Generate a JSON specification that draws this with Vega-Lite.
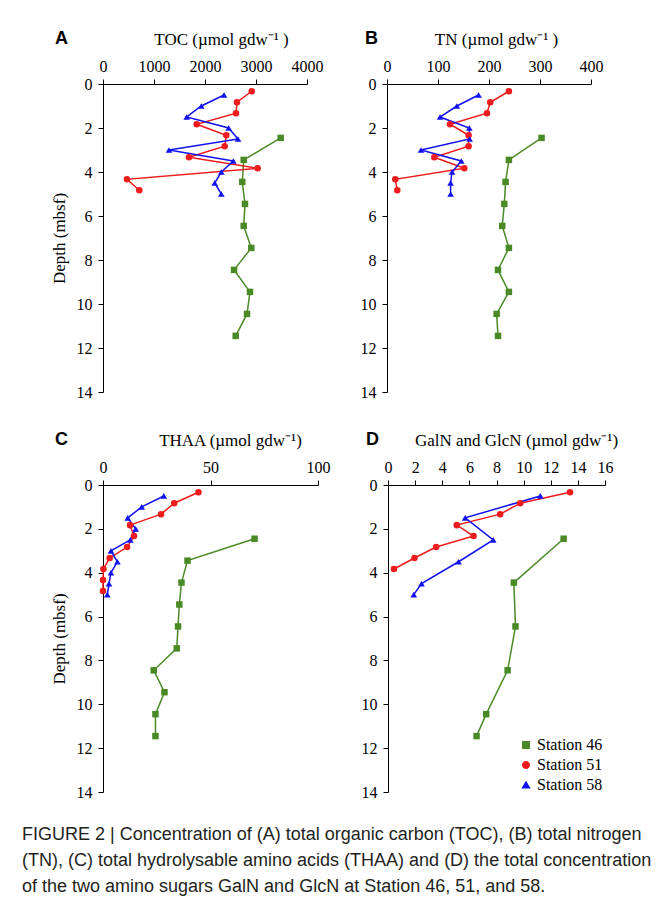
{
  "$schema": "https://vega.github.io/schema/vega-lite/v6.json",
  "autosize": {"type": "none"},
  "padding": {"left": 103, "top": 84, "right": 554, "bottom": 830},
  "background": "white",
  "datasets": {
    "A": [
      {"station": "Station 46", "depth": 2.45, "value": 3484},
      {"station": "Station 46", "depth": 3.45, "value": 2759},
      {"station": "Station 46", "depth": 4.45, "value": 2731},
      {"station": "Station 46", "depth": 5.45, "value": 2784},
      {"station": "Station 46", "depth": 6.45, "value": 2759},
      {"station": "Station 46", "depth": 7.45, "value": 2908},
      {"station": "Station 46", "depth": 8.45, "value": 2569},
      {"station": "Station 46", "depth": 9.45, "value": 2882},
      {"station": "Station 46", "depth": 10.45, "value": 2824},
      {"station": "Station 46", "depth": 11.45, "value": 2602},
      {"station": "Station 51", "depth": 0.33, "value": 2916},
      {"station": "Station 51", "depth": 0.83, "value": 2627},
      {"station": "Station 51", "depth": 1.33, "value": 2608},
      {"station": "Station 51", "depth": 1.83, "value": 1837},
      {"station": "Station 51", "depth": 2.33, "value": 2418},
      {"station": "Station 51", "depth": 2.83, "value": 2386},
      {"station": "Station 51", "depth": 3.33, "value": 1686},
      {"station": "Station 51", "depth": 3.83, "value": 3033},
      {"station": "Station 51", "depth": 4.33, "value": 470},
      {"station": "Station 51", "depth": 4.83, "value": 712},
      {"station": "Station 58", "depth": 0.5, "value": 2373},
      {"station": "Station 58", "depth": 1.0, "value": 1928},
      {"station": "Station 58", "depth": 1.5, "value": 1641},
      {"station": "Station 58", "depth": 2.0, "value": 2464},
      {"station": "Station 58", "depth": 2.5, "value": 2647},
      {"station": "Station 58", "depth": 3.0, "value": 1294},
      {"station": "Station 58", "depth": 3.5, "value": 2555},
      {"station": "Station 58", "depth": 4.0, "value": 2320},
      {"station": "Station 58", "depth": 4.5, "value": 2190},
      {"station": "Station 58", "depth": 5.0, "value": 2320}
    ],
    "B": [
      {"station": "Station 46", "depth": 2.45, "value": 303},
      {"station": "Station 46", "depth": 3.45, "value": 239},
      {"station": "Station 46", "depth": 4.45, "value": 232.5},
      {"station": "Station 46", "depth": 5.45, "value": 230},
      {"station": "Station 46", "depth": 6.45, "value": 226},
      {"station": "Station 46", "depth": 7.45, "value": 239},
      {"station": "Station 46", "depth": 8.45, "value": 217.6},
      {"station": "Station 46", "depth": 9.45, "value": 239},
      {"station": "Station 46", "depth": 10.45, "value": 215},
      {"station": "Station 46", "depth": 11.45, "value": 217.6},
      {"station": "Station 51", "depth": 0.33, "value": 239},
      {"station": "Station 51", "depth": 0.83, "value": 202.5},
      {"station": "Station 51", "depth": 1.33, "value": 196},
      {"station": "Station 51", "depth": 1.83, "value": 123.5},
      {"station": "Station 51", "depth": 2.33, "value": 160},
      {"station": "Station 51", "depth": 2.83, "value": 160},
      {"station": "Station 51", "depth": 3.33, "value": 92.7},
      {"station": "Station 51", "depth": 3.83, "value": 151.6},
      {"station": "Station 51", "depth": 4.33, "value": 16.3},
      {"station": "Station 51", "depth": 4.83, "value": 20.2},
      {"station": "Station 58", "depth": 0.5, "value": 179.6},
      {"station": "Station 58", "depth": 1.0, "value": 137},
      {"station": "Station 58", "depth": 1.5, "value": 104},
      {"station": "Station 58", "depth": 2.0, "value": 161.4},
      {"station": "Station 58", "depth": 2.5, "value": 162},
      {"station": "Station 58", "depth": 3.0, "value": 66.7},
      {"station": "Station 58", "depth": 3.5, "value": 145.7},
      {"station": "Station 58", "depth": 4.0, "value": 127.5},
      {"station": "Station 58", "depth": 4.5, "value": 124.7},
      {"station": "Station 58", "depth": 5.0, "value": 124.7}
    ],
    "C": [
      {"station": "Station 46", "depth": 2.45, "value": 70.5},
      {"station": "Station 46", "depth": 3.45, "value": 39.3},
      {"station": "Station 46", "depth": 4.45, "value": 36.5},
      {"station": "Station 46", "depth": 5.45, "value": 35.5},
      {"station": "Station 46", "depth": 6.45, "value": 34.9},
      {"station": "Station 46", "depth": 7.45, "value": 34.3},
      {"station": "Station 46", "depth": 8.45, "value": 23.6},
      {"station": "Station 46", "depth": 9.45, "value": 28.6},
      {"station": "Station 46", "depth": 10.45, "value": 24.4},
      {"station": "Station 46", "depth": 11.45, "value": 24.4},
      {"station": "Station 51", "depth": 0.33, "value": 44.4},
      {"station": "Station 51", "depth": 0.83, "value": 33.1},
      {"station": "Station 51", "depth": 1.33, "value": 27},
      {"station": "Station 51", "depth": 1.83, "value": 12.6},
      {"station": "Station 51", "depth": 2.33, "value": 14.4},
      {"station": "Station 51", "depth": 2.83, "value": 11.2},
      {"station": "Station 51", "depth": 3.33, "value": 3.1},
      {"station": "Station 51", "depth": 3.83, "value": 0.2},
      {"station": "Station 51", "depth": 4.33, "value": 0},
      {"station": "Station 51", "depth": 4.83, "value": 0},
      {"station": "Station 58", "depth": 0.5, "value": 28.3},
      {"station": "Station 58", "depth": 1.0, "value": 18},
      {"station": "Station 58", "depth": 1.5, "value": 11.5},
      {"station": "Station 58", "depth": 2.0, "value": 15.2},
      {"station": "Station 58", "depth": 2.5, "value": 12.7},
      {"station": "Station 58", "depth": 3.0, "value": 3.7},
      {"station": "Station 58", "depth": 3.5, "value": 6.7},
      {"station": "Station 58", "depth": 4.0, "value": 3.7},
      {"station": "Station 58", "depth": 4.5, "value": 2.8},
      {"station": "Station 58", "depth": 5.0, "value": 2.0}
    ],
    "D": [
      {"station": "Station 46", "depth": 2.45, "value": 12.95},
      {"station": "Station 46", "depth": 4.45, "value": 9.28},
      {"station": "Station 46", "depth": 6.45, "value": 9.4},
      {"station": "Station 46", "depth": 8.45, "value": 8.82},
      {"station": "Station 46", "depth": 10.45, "value": 7.24},
      {"station": "Station 46", "depth": 11.45, "value": 6.53},
      {"station": "Station 51", "depth": 0.33, "value": 13.42},
      {"station": "Station 51", "depth": 0.83, "value": 9.75},
      {"station": "Station 51", "depth": 1.33, "value": 8.27},
      {"station": "Station 51", "depth": 1.83, "value": 5.07},
      {"station": "Station 51", "depth": 2.33, "value": 6.31},
      {"station": "Station 51", "depth": 2.83, "value": 3.55},
      {"station": "Station 51", "depth": 3.33, "value": 1.95},
      {"station": "Station 51", "depth": 3.83, "value": 0.44},
      {"station": "Station 58", "depth": 0.5, "value": 11.23},
      {"station": "Station 58", "depth": 1.5, "value": 5.69},
      {"station": "Station 58", "depth": 2.5, "value": 7.76},
      {"station": "Station 58", "depth": 3.5, "value": 5.2},
      {"station": "Station 58", "depth": 4.5, "value": 2.47},
      {"station": "Station 58", "depth": 5.0, "value": 1.9}
    ]
  },
  "title": {
    "text": [
      "FIGURE 2 | Concentration of (A) total organic carbon (TOC), (B) total nitrogen",
      "(TN), (C) total hydrolysable amino acids (THAA) and (D) the total concentration",
      "of the two amino sugars GalN and GlcN at Station 46, 51, and 58."
    ],
    "orient": "bottom",
    "anchor": "start",
    "frame": "bounds",
    "font": "Liberation Sans",
    "fontSize": 18,
    "fontWeight": "normal",
    "lineHeight": 26,
    "color": "#231f20",
    "dx": -28,
    "offset": 26
  },
  "resolve": {"legend": {"color": "independent", "shape": "independent", "size": "independent"}},
  "vconcat": [
    {
      "bounds": "flush",
      "spacing": 80,
      "resolve": {"legend": {"color": "independent", "shape": "independent", "size": "independent"}},
      "hconcat": [
        {
          "width": 204,
          "height": 308,
          "data": {"name": "A"},
          "title": {"text": "A", "anchor": "start", "frame": "group", "font": "Liberation Sans", "fontSize": 18, "fontWeight": "bold", "color": "black", "dx": -48, "dy": 22},
          "encoding": {
            "x": {"field": "value", "type": "quantitative", "scale": {"domain": [0, 4000], "nice": false}, "axis": {"orient": "top", "values": [0, 1000, 2000, 3000, 4000], "format": "d", "title": "TOC (µmol gdw⁻¹ )", "titleX": 118}},
            "y": {"field": "depth", "type": "quantitative", "scale": {"domain": [0, 14], "reverse": true, "nice": false}, "axis": {"values": [0, 2, 4, 6, 8, 10, 12, 14], "title": "Depth (mbsf)"}}
          },
          "layer": [
            {"mark": {"type": "line", "strokeWidth": 1.5}, "encoding": {"color": {"field": "station", "type": "nominal", "scale": {"domain": ["Station 46", "Station 51", "Station 58"], "range": ["#4a8a26", "#ee1c1c", "#1010f0"]}, "legend": null}, "order": {"field": "depth", "type": "quantitative"}}},
            {"mark": {"type": "point", "filled": true, "opacity": 1}, "encoding": {
              "color": {"field": "station", "type": "nominal", "legend": null},
              "shape": {"field": "station", "type": "nominal", "scale": {"domain": ["Station 46", "Station 51", "Station 58"], "range": ["square", "circle", "triangle-up"]}, "legend": null},
              "size": {"field": "station", "type": "nominal", "scale": {"domain": ["Station 46", "Station 51", "Station 58"], "range": [42, 44, 85]}, "legend": null}}}
          ]
        },
        {
          "width": 204,
          "height": 308,
          "data": {"name": "B"},
          "title": {"text": "B", "anchor": "start", "frame": "group", "font": "Liberation Sans", "fontSize": 18, "fontWeight": "bold", "color": "black", "dx": -22, "dy": 22},
          "encoding": {
            "x": {"field": "value", "type": "quantitative", "scale": {"domain": [0, 400], "nice": false}, "axis": {"orient": "top", "values": [0, 100, 200, 300, 400], "title": "TN (µmol gdw⁻¹ )", "titleX": 109}},
            "y": {"field": "depth", "type": "quantitative", "scale": {"domain": [0, 14], "reverse": true, "nice": false}, "axis": {"values": [0, 2, 4, 6, 8, 10, 12, 14], "title": null}}
          },
          "layer": [
            {"mark": {"type": "line", "strokeWidth": 1.5}, "encoding": {"color": {"field": "station", "type": "nominal", "legend": null}, "order": {"field": "depth", "type": "quantitative"}}},
            {"mark": {"type": "point", "filled": true, "opacity": 1}, "encoding": {
              "color": {"field": "station", "type": "nominal", "legend": null},
              "shape": {"field": "station", "type": "nominal", "legend": null},
              "size": {"field": "station", "type": "nominal", "legend": null}}}
          ]
        }
      ]
    },
    {
      "bounds": "flush",
      "spacing": 70,
      "resolve": {"legend": {"color": "independent", "shape": "independent", "size": "independent"}},
      "hconcat": [
        {
          "width": 215,
          "height": 307,
          "data": {"name": "C"},
          "title": {"text": "C", "anchor": "start", "frame": "group", "font": "Liberation Sans", "fontSize": 18, "fontWeight": "bold", "color": "black", "dx": -48, "dy": 22},
          "encoding": {
            "x": {"field": "value", "type": "quantitative", "scale": {"domain": [0, 100], "nice": false}, "axis": {"orient": "top", "values": [0, 50, 100], "title": "THAA (µmol gdw⁻¹)", "titleX": 127}},
            "y": {"field": "depth", "type": "quantitative", "scale": {"domain": [0, 14], "reverse": true, "nice": false}, "axis": {"values": [0, 2, 4, 6, 8, 10, 12, 14], "title": "Depth (mbsf)"}}
          },
          "layer": [
            {"mark": {"type": "line", "strokeWidth": 1.5}, "encoding": {"color": {"field": "station", "type": "nominal", "legend": null}, "order": {"field": "depth", "type": "quantitative"}}},
            {"mark": {"type": "point", "filled": true, "opacity": 1}, "encoding": {
              "color": {"field": "station", "type": "nominal", "legend": null},
              "shape": {"field": "station", "type": "nominal", "legend": null},
              "size": {"field": "station", "type": "nominal", "legend": null}}}
          ]
        },
        {
          "width": 217,
          "height": 307,
          "data": {"name": "D"},
          "title": {"text": "D", "anchor": "start", "frame": "group", "font": "Liberation Sans", "fontSize": 18, "fontWeight": "bold", "color": "black", "dx": -22, "dy": 22},
          "encoding": {
            "x": {"field": "value", "type": "quantitative", "scale": {"domain": [0, 16], "nice": false}, "axis": {"orient": "top", "values": [0, 2, 4, 6, 8, 10, 12, 14, 16], "title": "GalN and GlcN (µmol gdw⁻¹)", "titleX": 128}},
            "y": {"field": "depth", "type": "quantitative", "scale": {"domain": [0, 14], "reverse": true, "nice": false}, "axis": {"values": [0, 2, 4, 6, 8, 10, 12, 14], "title": null}}
          },
          "layer": [
            {"mark": {"type": "line", "strokeWidth": 1.5}, "encoding": {"color": {"field": "station", "type": "nominal"}, "order": {"field": "depth", "type": "quantitative"}}},
            {"mark": {"type": "point", "filled": true, "opacity": 1}, "encoding": {
              "size": {"field": "station", "type": "nominal", "legend": null},
              "color": {"field": "station", "type": "nominal", "legend": {"title": null, "orient": "none", "legendX": 130, "legendY": 252, "symbolSize": 1024, "labelFont": "Liberation Serif", "labelFontSize": 16, "labelColor": "black", "labelOffset": 3, "rowPadding": 4,
                "encode": {"symbols": {
                  "shape": {"value": {"expr": "datum.value === 'Station 46' ? 'M-1,0H1M-0.19,-0.19H0.19V0.19H-0.19Z' : datum.value === 'Station 51' ? 'M-1,0H1M0.19,0A0.19,0.19,0,1,1,-0.19,0A0.19,0.19,0,1,1,0.19,0Z' : 'M-1,0H1M0,-0.25L0.23,0.17H-0.23Z'"}},
                  "fill": {"value": {"expr": "datum.value === 'Station 46' ? '#4a8a26' : datum.value === 'Station 51' ? '#ee1c1c' : '#1010f0'"}},
                  "stroke": {"value": {"expr": "datum.value === 'Station 46' ? '#4a8a26' : datum.value === 'Station 51' ? '#ee1c1c' : '#1010f0'"}},
                  "size": {"value": 1024},
                  "strokeWidth": {"value": 1.5},
                  "opacity": {"value": 1}
                }}}},
              "shape": {"field": "station", "type": "nominal", "legend": {"title": null, "orient": "none", "legendX": 130, "legendY": 252, "symbolSize": 1024, "labelFont": "Liberation Serif", "labelFontSize": 16, "labelColor": "black", "labelOffset": 3, "rowPadding": 4,
                "encode": {"symbols": {
                  "shape": {"value": {"expr": "datum.value === 'Station 46' ? 'M-1,0H1M-0.19,-0.19H0.19V0.19H-0.19Z' : datum.value === 'Station 51' ? 'M-1,0H1M0.19,0A0.19,0.19,0,1,1,-0.19,0A0.19,0.19,0,1,1,0.19,0Z' : 'M-1,0H1M0,-0.25L0.23,0.17H-0.23Z'"}},
                  "fill": {"value": {"expr": "datum.value === 'Station 46' ? '#4a8a26' : datum.value === 'Station 51' ? '#ee1c1c' : '#1010f0'"}},
                  "stroke": {"value": {"expr": "datum.value === 'Station 46' ? '#4a8a26' : datum.value === 'Station 51' ? '#ee1c1c' : '#1010f0'"}},
                  "size": {"value": 1024},
                  "strokeWidth": {"value": 1.5},
                  "opacity": {"value": 1}
                }}}}
            }}
          ]
        }
      ]
    }
  ],
  "spacing": 401,
  "bounds": "flush",
  "config": {
    "view": {"stroke": null},
    "legend": {"labelFont": "Liberation Serif", "labelFontSize": 16, "labelColor": "black", "symbolSize": 1024, "labelOffset": 3, "rowPadding": 4},
    "axis": {
      "domainColor": "black",
      "tickColor": "black",
      "labelColor": "black",
      "titleColor": "black",
      "labelFont": "Liberation Serif",
      "titleFont": "Liberation Serif",
      "labelFontSize": 16,
      "titleFontSize": 17,
      "titleFontWeight": "normal",
      "grid": false,
      "tickSize": 5,
      "labelPadding": 5,
      "titlePadding": 10
    },
    "axisX": {"labelAngle": 0, "labelFlush": false},
    "axisY": {"labelPadding": 6, "titlePadding": 8}
  }
}
